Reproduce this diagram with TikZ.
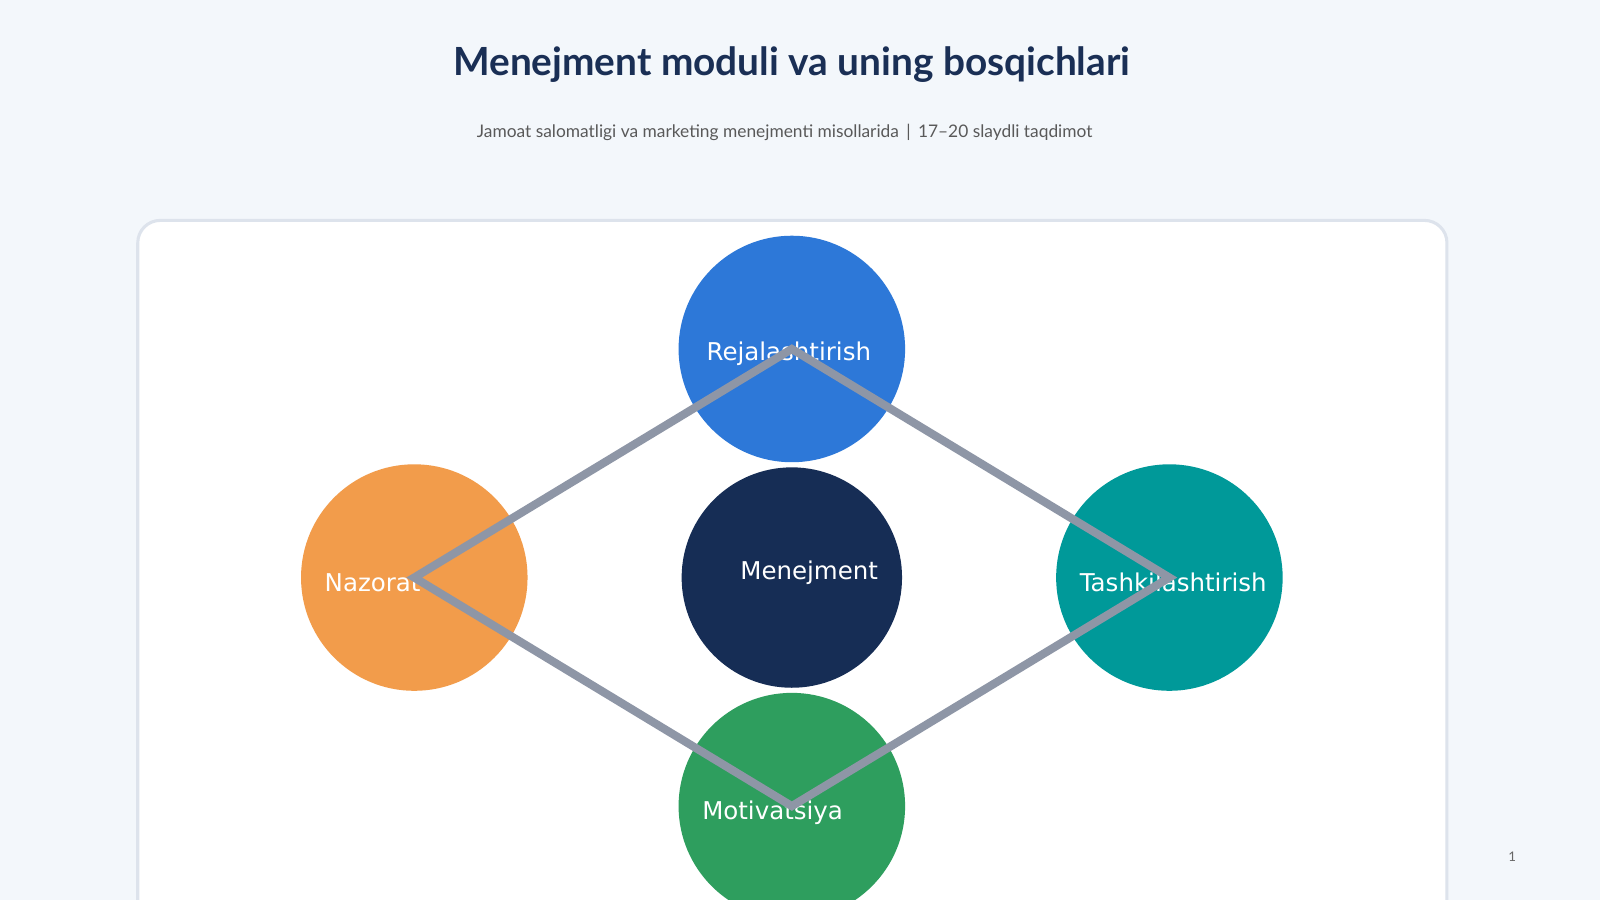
\documentclass[tikz,border=0pt]{standalone}
\usepackage{fontspec}
\setmainfont{Lato}
\newfontfamily\dvs{DejaVu Sans}
\definecolor{bg}{HTML}{F3F7FB}
\definecolor{panelb}{HTML}{DDE3EC}
\definecolor{cblue}{HTML}{2D78D8}
\definecolor{corange}{HTML}{F29C4B}
\definecolor{cnavy}{HTML}{162D55}
\definecolor{cteal}{HTML}{009999}
\definecolor{cgreen}{HTML}{2E9E5E}
\definecolor{lgray}{HTML}{8E96A6}
\definecolor{ttl}{HTML}{1A2F55}
\begin{document}
\begin{tikzpicture}[x=1pt,y=-1pt,
  circ/.style={circle,draw=none,minimum size=222pt,inner sep=0pt},
  lbl/.style={text=white,font=\dvs\fontsize{24}{28}\selectfont,inner sep=0pt},
  link/.style={draw=lgray,line width=8pt,line join=miter}]
\fill[bg] (0,0) rectangle (1568,882);
\useasboundingbox (0,0) rectangle (1568,882);
\filldraw[fill=white,draw=panelb,line width=3pt,rounded corners=22pt] (135,216) rectangle (1418,930);
\node[font=\bfseries\fontsize{38}{44}\selectfont,text=ttl] (title) at (776,63) {Menejment moduli va uning bosqichlari};
\node[font=\fontsize{17}{20}\selectfont,text=black!65] (sub) at (769,130) {Jamoat salomatligi va marketing menejmenti misollarida \,|\, 17–20 slaydli taqdimot};
\node[font=\fontsize{13}{15}\selectfont,text=black!60] (pg) at (1482,840) {1};
\node[circ,fill=cblue] (r) at (776,342) {};
\node[circ,fill=corange] (n) at (406,566) {};
\node[circ,fill=cnavy,minimum size=216pt] (m) at (776,566) {};
\node[circ,fill=cteal] (t) at (1146,566) {};
\node[circ,fill=cgreen] (v) at (776,790) {};
\node[lbl] (rl) at (773,347) {Rejalashtirish};
\node[lbl,anchor=west] (nl) at (318,571) {Nazorat};
\node[lbl] (ml) at (793,561) {Menejment};
\node[lbl,anchor=west] (tl) at (1058,571) {Tashkilashtirish};
\node[lbl,anchor=west] (vl) at (688,796) {Motivatsiya};
\draw[link] (r.center) -- (t.center) -- (v.center) -- (n.center) -- cycle;
\end{tikzpicture}
\end{document}
